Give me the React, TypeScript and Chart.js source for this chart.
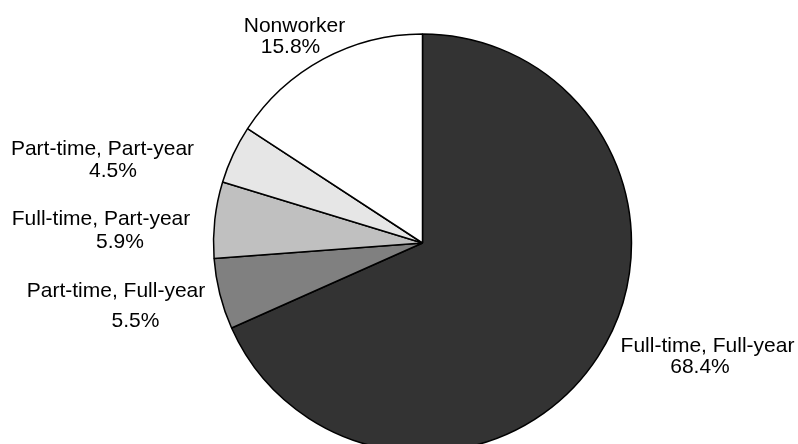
import React, { useEffect, useRef } from "react";
import { Chart, registerables } from "chart.js";

Chart.register(...registerables);

const categories: string[] = [
  "Full-time, Full-year",
  "Part-time, Full-year",
  "Full-time, Part-year",
  "Part-time, Part-year",
  "Nonworker",
];
const shares: number[] = [68.4, 5.5, 5.9, 4.5, 15.8];
const valueLabels: string[] = ["68.4%", "5.5%", "5.9%", "4.5%", "15.8%"];
const sliceColors: string[] = ["#333333", "#808080", "#c0c0c0", "#e6e6e6", "#ffffff"];

// label line centres / baselines, in pixels relative to the pie centre
const labelLayout: { l1: [number, number]; l2: [number, number] }[] = [
  { l1: [285, 108.7], l2: [277.5, 130] },
  { l1: [-306.5, 53.7], l2: [-287, 83.7] },
  { l1: [-321.5, -18], l2: [-302.5, 5.3] },
  { l1: [-320, -88], l2: [-309.5, -66.3] },
  { l1: [-128, -211.3], l2: [-132, -189.7] },
];

const labelPlugin = {
  id: "pieLabels",
  afterDraw(chart: any) {
    const ctx = chart.ctx;
    const meta = chart.getDatasetMeta(0);
    if (!meta.data.length) return;
    const arc = meta.data[0];
    const cx = arc.x;
    const cy = arc.y;
    ctx.save();
    ctx.font = '21px "Liberation Sans", Arial, sans-serif';
    ctx.fillStyle = "#000000";
    ctx.textAlign = "center";
    ctx.textBaseline = "alphabetic";
    categories.forEach((c, i) => {
      const lay = labelLayout[i];
      ctx.fillText(c, cx + lay.l1[0], cy + lay.l1[1]);
      ctx.fillText(valueLabels[i], cx + lay.l2[0], cy + lay.l2[1]);
    });
    ctx.restore();
  },
};

export default function App() {
  const ref = useRef<HTMLCanvasElement | null>(null);
  useEffect(() => {
    if (!ref.current) return;
    const chart = new Chart(ref.current, {
      type: "pie",
      data: {
        labels: categories,
        datasets: [
          {
            data: shares,
            backgroundColor: sliceColors,
            borderColor: "#000000",
            borderWidth: 1.5,
            radius: 209,
          } as any,
        ],
      },
      options: {
        animation: false,
        responsive: false,
        maintainAspectRatio: false,
        layout: { padding: { left: 47, right: 0, top: 34, bottom: 8 } },
        plugins: {
          legend: { display: false },
          tooltip: { enabled: false },
        },
      },
      plugins: [labelPlugin],
    });
    return () => chart.destroy();
  }, []);
  return (
    <div
      style={{
        position: "fixed",
        left: 0,
        top: 0,
        width: 798,
        height: 444,
        overflow: "hidden",
        background: "#ffffff",
      }}
    >
      <canvas ref={ref} width={798} height={460} style={{ width: 798, height: 460, display: "block" }} />
    </div>
  );
}
